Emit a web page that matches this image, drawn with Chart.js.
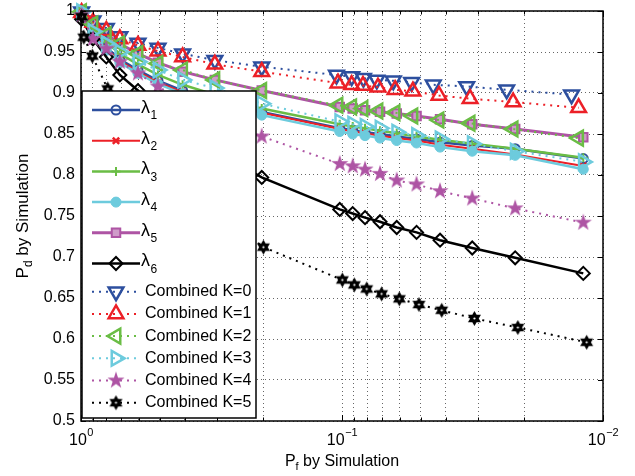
<!DOCTYPE html>
<html>
<head>
<meta charset="utf-8">
<script src="https://cdn.jsdelivr.net/npm/chart.js@4.4.1/dist/chart.umd.min.js"></script>
<style>
  html, body { margin: 0; padding: 0; background: #fff; }
  #wrap { width: 635px; height: 476px; }
</style>
</head>
<body>
<div id="wrap"><canvas id="chart" width="635" height="476"></canvas></div>
<script>
// Pf by simulation (x values) per group of curves
const pfLambda = [0.995, 0.9, 0.8, 0.71, 0.605, 0.507, 0.408, 0.307, 0.203, 0.102, 0.091, 0.0816, 0.0715, 0.0617, 0.0518, 0.0421, 0.0317, 0.0217, 0.0119];
const pfComb0 = [0.995, 0.9, 0.8, 0.71, 0.605, 0.507, 0.408, 0.307, 0.203, 0.105, 0.0918, 0.0828, 0.0736, 0.0636, 0.0541, 0.0447, 0.0333, 0.0234, 0.0132];
const pfComb1 = [0.995, 0.9, 0.8, 0.71, 0.605, 0.507, 0.408, 0.307, 0.203, 0.1036, 0.0918, 0.0831, 0.0728, 0.0626, 0.0535, 0.0425, 0.0323, 0.0221, 0.0124];
const pfComb5 = [0.995, 0.975, 0.905, 0.79, 0.65, 0.52, 0.4, 0.3, 0.2, 0.0997, 0.0897, 0.0804, 0.0705, 0.0603, 0.0507, 0.0415, 0.0311, 0.0212, 0.01155];

// Pd by simulation (y values)
const lambda1 = [0.999, 0.974, 0.956, 0.941, 0.928, 0.915, 0.903, 0.891, 0.877, 0.857, 0.855, 0.852, 0.850, 0.847, 0.844, 0.840, 0.836, 0.832, 0.820];
const lambda2 = [0.999, 0.972, 0.954, 0.939, 0.926, 0.913, 0.901, 0.890, 0.876, 0.856, 0.853, 0.851, 0.848, 0.845, 0.842, 0.837, 0.832, 0.825, 0.811];
const lambda3 = [0.999, 0.978, 0.962, 0.948, 0.935, 0.922, 0.910, 0.898, 0.881, 0.862, 0.859, 0.857, 0.854, 0.851, 0.847, 0.843, 0.838, 0.832, 0.821];
const lambda4 = [0.999, 0.970, 0.952, 0.937, 0.924, 0.911, 0.899, 0.887, 0.873, 0.853, 0.850, 0.848, 0.845, 0.842, 0.839, 0.834, 0.829, 0.824, 0.807];
const lambda5 = [0.999, 0.985, 0.972, 0.960, 0.948, 0.937, 0.926, 0.916, 0.903, 0.883, 0.881, 0.879, 0.877, 0.875, 0.872, 0.868, 0.862, 0.856, 0.846];
const lambda6 = [0.990, 0.966, 0.944, 0.922, 0.903, 0.879, 0.855, 0.829, 0.797, 0.758, 0.753, 0.748, 0.743, 0.736, 0.730, 0.7205, 0.711, 0.699, 0.680];
const comb0 = [0.999, 0.988, 0.979, 0.969, 0.961, 0.955, 0.948, 0.940, 0.932, 0.922, 0.920, 0.918, 0.916, 0.915, 0.913, 0.910, 0.908, 0.904, 0.898];
const comb1 = [0.998, 0.986, 0.976, 0.966, 0.958, 0.951, 0.944, 0.935, 0.926, 0.912, 0.910, 0.909, 0.907, 0.904, 0.902, 0.897, 0.893, 0.889, 0.882];
const comb2 = [0.999, 0.984, 0.971, 0.960, 0.948, 0.936, 0.928, 0.916, 0.903, 0.885, 0.883, 0.881, 0.878, 0.876, 0.872, 0.867, 0.863, 0.856, 0.845];
const comb3 = [0.999, 0.975, 0.960, 0.950, 0.938, 0.928, 0.916, 0.906, 0.887, 0.865, 0.862, 0.859, 0.857, 0.852, 0.848, 0.844, 0.838, 0.829, 0.816];
const comb4 = [0.995, 0.966, 0.954, 0.938, 0.924, 0.908, 0.890, 0.870, 0.847, 0.8135, 0.8107, 0.8067, 0.8014, 0.7933, 0.7885, 0.7803, 0.7714, 0.7593, 0.7419];
const comb5 = [0.993, 0.968, 0.945, 0.905, 0.870, 0.830, 0.790, 0.755, 0.712, 0.672, 0.666, 0.661, 0.655, 0.649, 0.642, 0.635, 0.625, 0.614, 0.596];

// ticks
const xTickValues = [0.01, 0.02, 0.03, 0.04, 0.05, 0.06, 0.07, 0.08, 0.09, 0.1, 0.2, 0.3, 0.4, 0.5, 0.6, 0.7, 0.8, 0.9, 1];
const xLabelValues = [1, 0.1, 0.01];
const xLabelExponents = ["0", "\u22121", "\u22122"];
const yTickValues = [0.5, 0.55, 0.6, 0.65, 0.7, 0.75, 0.8, 0.85, 0.9, 0.95, 1];
const yTickLabels = ["0.5", "0.55", "0.6", "0.65", "0.7", "0.75", "0.8", "0.85", "0.9", "0.95", "1"];

const BLUE = "#2d4f9e";
const RED = "#ec2027";
const GREEN = "#6abd45";
const CYAN = "#6dcbdd";
const PURPLE = "#ae54a4";
const BLACK = "#000000";
const NONE = "rgba(0,0,0,0)";
const FONT = "'Liberation Sans', Arial, Helvetica, sans-serif";
const DOTS = [2, 5];

const starCanvas = (points, outer, inner, color, hole) => {
  const size = Math.ceil(outer * 2 + 2);
  const c = document.createElement("canvas");
  c.width = size;
  c.height = size;
  const g = c.getContext("2d");
  const cx = size / 2, cy = size / 2;
  g.beginPath();
  for (let i = 0; i < points * 2; i++) {
    const r = i % 2 === 0 ? outer : inner;
    const a = -Math.PI / 2 + (i * Math.PI) / points;
    const px = cx + r * Math.cos(a), py = cy + r * Math.sin(a);
    if (i === 0) g.moveTo(px, py); else g.lineTo(px, py);
  }
  g.closePath();
  g.fillStyle = color;
  g.fill();
  if (hole) {
    g.beginPath();
    g.arc(cx, cy, hole, 0, 2 * Math.PI);
    g.fillStyle = "#fff";
    g.fill();
  }
  return c;
};

const pentagram = starCanvas(5, 9, 3.5, PURPLE, 0);
const hexagram = starCanvas(6, 7.5, 4.3, BLACK, 1.1);

const series = [
  { label: "λ1", xs: pfLambda, ys: lambda1, color: BLUE, style: "circle", radius: 4.5, fill: NONE, mw: 2, lw: 2.5 },
  { label: "λ2", xs: pfLambda, ys: lambda2, color: RED, style: "crossRot", radius: 4.5, fill: NONE, mw: 2.5, lw: 2 },
  { label: "λ3", xs: pfLambda, ys: lambda3, color: GREEN, style: "cross", radius: 4.5, fill: NONE, mw: 2, lw: 2.5 },
  { label: "λ4", xs: pfLambda, ys: lambda4, color: CYAN, style: "circle", radius: 5, fill: CYAN, mw: 1, lw: 2.5 },
  { label: "λ5", xs: pfLambda, ys: lambda5, color: PURPLE, style: "rect", radius: 6, fill: "#cf9bc9", mw: 2, lw: 3 },
  { label: "λ6", xs: pfLambda, ys: lambda6, color: BLACK, style: "rectRot", radius: 6.5, fill: NONE, mw: 2, lw: 2.5 },
  { label: "Combined K=0", xs: pfComb0, ys: comb0, color: BLUE, style: "triangle", rot: 180, radius: 8.5, fill: NONE, mw: 2.5, lw: 2, dotted: true },
  { label: "Combined K=1", xs: pfComb1, ys: comb1, color: RED, style: "triangle", rot: 0, radius: 8.5, fill: NONE, mw: 2.5, lw: 2, dotted: true },
  { label: "Combined K=2", xs: pfComb1, ys: comb2, color: GREEN, style: "triangle", rot: -90, radius: 8.5, fill: NONE, mw: 2.5, lw: 2, dotted: true },
  { label: "Combined K=3", xs: pfLambda, ys: comb3, color: CYAN, style: "triangle", rot: 90, radius: 8.5, fill: NONE, mw: 2.5, lw: 2, dotted: true },
  { label: "Combined K=4", xs: pfLambda, ys: comb4, color: PURPLE, style: pentagram, radius: 8, fill: PURPLE, mw: 1, lw: 2, dotted: true },
  { label: "Combined K=5", xs: pfComb5, ys: comb5, color: BLACK, style: hexagram, radius: 7, fill: BLACK, mw: 1, lw: 2, dotted: true },
];

const datasets = series.map((s, i) => ({
  label: s.label,
  data: s.xs.map((x, j) => ({ x, y: s.ys[j] })),
  showLine: true,
  fill: false,
  tension: 0,
  borderColor: s.color,
  borderWidth: s.lw,
  borderDash: s.dotted ? DOTS : [],
  pointStyle: s.style,
  pointRadius: s.radius,
  pointRotation: s.rot || 0,
  pointBorderColor: s.color,
  pointBackgroundColor: s.fill,
  pointBorderWidth: s.mw,
  order: series.length - i,
  clip: false,
}));

const line = (ctx, x1, y1, x2, y2) => {
  ctx.beginPath();
  ctx.moveTo(x1, y1);
  ctx.lineTo(x2, y2);
  ctx.stroke();
};

const drawMarker = (ctx, s, px, py) => {
  const drawPoint = Chart.helpers && Chart.helpers.drawPoint;
  if (!drawPoint) return;
  ctx.save();
  ctx.setLineDash([]);
  ctx.strokeStyle = s.color;
  ctx.fillStyle = s.fill;
  ctx.lineWidth = s.mw;
  drawPoint(ctx, { pointStyle: s.style, radius: s.radius, rotation: s.rot || 0, borderWidth: s.mw }, px, py);
  ctx.restore();
};

const frame = {
  id: "frame",
  afterDraw(chart) {
    const { ctx, chartArea: a, scales } = chart;
    const x = scales.x, y = scales.y;
    ctx.save();

    // inner ticks
    ctx.strokeStyle = "#000";
    ctx.lineWidth = 1;
    xTickValues.forEach((v) => {
      const px = Math.round(x.getPixelForValue(v)) + 0.5;
      const len = xLabelValues.includes(v) ? 6 : 3.5;
      line(ctx, px, a.bottom, px, a.bottom - len);
      line(ctx, px, a.top, px, a.top + len);
    });
    yTickValues.forEach((v) => {
      const py = Math.round(y.getPixelForValue(v)) + 0.5;
      line(ctx, a.left, py, a.left + 5, py);
      line(ctx, a.right, py, a.right - 5, py);
    });

    // axes box
    ctx.lineWidth = 1.5;
    ctx.strokeRect(a.left, a.top, a.right - a.left, a.bottom - a.top);

    // y tick labels
    ctx.fillStyle = "#000";
    ctx.font = `16px ${FONT}`;
    ctx.textAlign = "right";
    ctx.textBaseline = "middle";
    yTickValues.forEach((v, i) => ctx.fillText(yTickLabels[i], a.left - 6, y.getPixelForValue(v)));

    // x tick labels 10^n
    ctx.textAlign = "left";
    ctx.textBaseline = "alphabetic";
    xLabelValues.forEach((v, i) => {
      const px = x.getPixelForValue(v);
      ctx.font = `16px ${FONT}`;
      const w1 = ctx.measureText("10").width;
      ctx.font = `11px ${FONT}`;
      const w2 = ctx.measureText(xLabelExponents[i]).width;
      const start = px - (w1 + w2) / 2;
      ctx.font = `16px ${FONT}`;
      ctx.fillText("10", start, a.bottom + 24);
      ctx.font = `11px ${FONT}`;
      ctx.fillText(xLabelExponents[i], start + w1 + 0.5, a.bottom + 15);
    });

    // axis titles with subscripts
    const title = (sub, cx, cy, size) => {
      ctx.font = `${size}px ${FONT}`;
      const wP = ctx.measureText("P").width;
      const wRest = ctx.measureText(" by Simulation").width;
      ctx.font = `${Math.round(size * 0.7)}px ${FONT}`;
      const wSub = ctx.measureText(sub).width;
      const start = cx - (wP + wSub + wRest) / 2;
      ctx.font = `${size}px ${FONT}`;
      ctx.fillText("P", start, cy);
      ctx.fillText(" by Simulation", start + wP + wSub, cy);
      ctx.font = `${Math.round(size * 0.7)}px ${FONT}`;
      ctx.fillText(sub, start + wP, cy + 4);
    };
    title("f", (a.left + a.right) / 2, 466, 16);
    ctx.save();
    ctx.translate(28, (a.top + a.bottom) / 2);
    ctx.rotate(-Math.PI / 2);
    title("d", 0, 0, 17);
    ctx.restore();

    // legend
    const box = { left: 82, top: 91, width: 174, height: 327 };
    ctx.fillStyle = "#fff";
    ctx.fillRect(box.left, box.top, box.width, box.height);
    ctx.strokeStyle = "#000";
    ctx.lineWidth = 1.5;
    ctx.strokeRect(box.left, box.top, box.width, box.height);

    series.forEach((s, i) => {
      const isLambda = !s.dotted;
      const ry = isLambda ? 110 + i * 30.7 : 291.7 + (i - 6) * 22.2;
      ctx.save();
      ctx.strokeStyle = s.color;
      ctx.lineWidth = s.lw;
      ctx.setLineDash(s.dotted ? DOTS : []);
      line(ctx, 92, ry, isLambda ? 140 : 137, ry);
      ctx.restore();
      drawMarker(ctx, s, 116, ry);

      ctx.fillStyle = "#000";
      ctx.textAlign = "left";
      ctx.textBaseline = "middle";
      if (isLambda) {
        ctx.font = `18px ${FONT}`;
        ctx.fillText("λ", 141, ry - 2);
        const wl = ctx.measureText("λ").width;
        ctx.font = `12px ${FONT}`;
        ctx.fillText(s.label.slice(1), 141 + wl + 0.5, ry + 6);
      } else {
        ctx.font = `16px ${FONT}`;
        ctx.fillText(s.label, 145, ry);
      }
    });

    ctx.restore();
  },
};

const gridOpts = { color: "rgba(0,0,0,0.6)", lineWidth: 1, drawTicks: false };

new Chart(document.getElementById("chart"), {
  type: "scatter",
  data: { datasets },
  options: {
    responsive: false,
    animation: false,
    events: [],
    layout: { padding: { left: 81, right: 32, top: 9, bottom: 55 } },
    plugins: { legend: { display: false }, tooltip: { enabled: false } },
    scales: {
      x: {
        type: "logarithmic",
        min: 0.01,
        max: 1,
        reverse: true,
        grid: gridOpts,
        border: { display: false, dash: [1, 3] },
        ticks: { display: false },
        afterBuildTicks: (scale) => {
          scale.ticks = xTickValues.map((v) => ({ value: v }));
        },
      },
      y: {
        type: "linear",
        min: 0.5,
        max: 1,
        grid: gridOpts,
        border: { display: false, dash: [1, 3] },
        ticks: { display: false },
        afterBuildTicks: (scale) => {
          scale.ticks = yTickValues.map((v) => ({ value: v }));
        },
      },
    },
  },
  plugins: [frame],
});
</script>
</body>
</html>
